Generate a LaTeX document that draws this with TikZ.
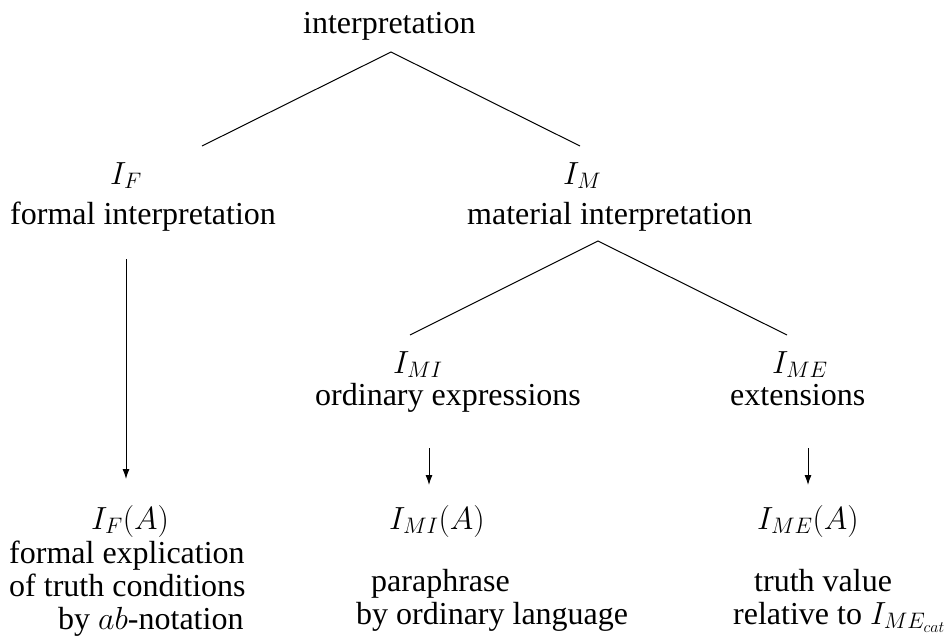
\documentclass[tikz,border=0pt]{standalone}
\usepackage{fix-cm}
\usepackage[no-math]{fontspec}
\setmainfont{Liberation Serif}
\usetikzlibrary{arrows.meta}
\begin{document}
\begin{tikzpicture}[x=1pt,y=1pt,
  lbl/.style={inner sep=0pt, anchor=base west, font=\fontsize{32}{30}\selectfont},
  branch/.style={line width=1pt},
  down/.style={line width=1pt,-{Latex[length=10pt,width=7pt]}}]
\useasboundingbox (0,0) rectangle (949,-641);

% root
\node[lbl] (root) at (303,-33) {interpretation};
\coordinate (apexA) at (391,-52);
\coordinate (endF) at (202,-146);
\coordinate (endM) at (580,-146);

% first level
\node[lbl] (IF) at (110,-184) {$I_F$};
\node[lbl] (IFtxt) at (10,-224) {formal interpretation};
\node[lbl] (IM) at (563,-184) {$I_M$};
\node[lbl] (IMtxt) at (467,-224) {material interpretation};

\coordinate (apexB) at (598,-241);
\coordinate (endMI) at (410,-335);
\coordinate (endME) at (787,-335);

% second level
\node[lbl] (IMI) at (393,-373) {$I_{MI}$};
\node[lbl] (IMItxt) at (315,-405) {ordinary expressions};
\node[lbl] (IME) at (772,-373) {$I_{ME}$};
\node[lbl] (IMEtxt) at (730,-405) {extensions};

% arrows
\coordinate (aF1) at (126,-259);
\coordinate (aF2) at (126,-479);
\coordinate (aMI1) at (429,-448);
\coordinate (aMI2) at (429,-485);
\coordinate (aME1) at (808,-448);
\coordinate (aME2) at (808,-485);

% results
\node[lbl] (IFA) at (91,-529) {$I_F(A)$};
\node[lbl] (IFA1) at (9,-563) {formal explication};
\node[lbl] (IFA2) at (9,-596) {of truth conditions};
\node[lbl] (IFA3) at (58,-629) {by $ab$-notation};

\node[lbl] (IMIA) at (389,-529) {$I_{MI}(A)$};
\node[lbl] (IMIA1) at (371,-591) {paraphrase};
\node[lbl] (IMIA2) at (356,-624) {by ordinary language};

\node[lbl] (IMEA) at (757,-529) {$I_{ME}(A)$};
\node[lbl] (IMEA1) at (754,-591) {truth value};
\node[lbl] (IMEA2) at (733,-624) {relative to $I_{ME_{cat}}$};

% tree branches
\draw[branch] (endF) -- (apexA) -- (endM);
\draw[branch] (endMI) -- (apexB) -- (endME);

% derivation arrows
\draw[down] (aF1) -- (aF2);
\draw[down] (aMI1) -- (aMI2);
\draw[down] (aME1) -- (aME2);
\end{tikzpicture}
\end{document}
